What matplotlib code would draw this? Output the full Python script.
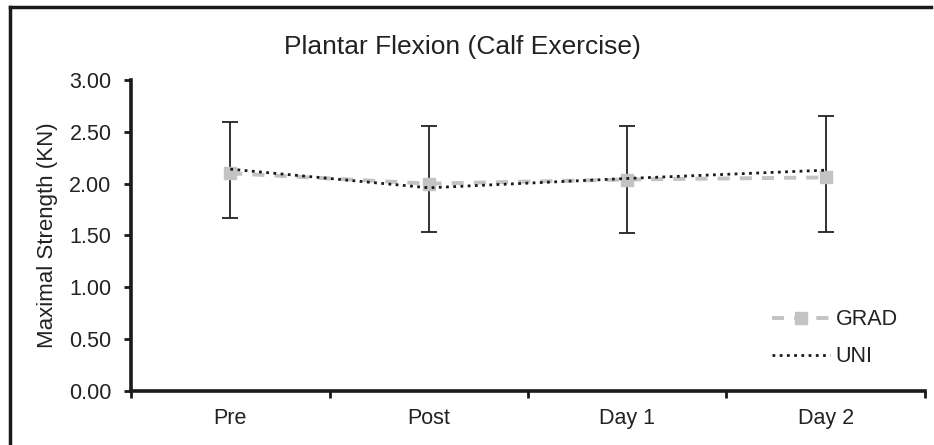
import matplotlib.pyplot as plt
from matplotlib.lines import Line2D

plt.rcParams['font.family'] = ['Liberation Sans', 'DejaVu Sans']

timepoints = ['Pre', 'Post', 'Day 1', 'Day 2']
grad = [2.10, 2.00, 2.04, 2.06]
uni = [2.14, 1.96, 2.05, 2.13]
err_low = [1.67, 1.53, 1.52, 1.53]
err_high = [2.59, 2.56, 2.56, 2.65]

fig = plt.figure(figsize=(9.34, 4.45), dpi=100)
ax = fig.add_axes([0.1403, 0.1213, 0.850, 0.699])

x = list(range(len(timepoints)))
mid = [(lo + hi) / 2 for lo, hi in zip(err_low, err_high)]
half = [(hi - lo) / 2 for lo, hi in zip(err_low, err_high)]
ax.errorbar(x, mid, yerr=half, fmt='none', ecolor='#222222', elinewidth=1.3,
            capsize=5.5, capthick=1.3, zorder=2)

ax.plot(x, grad, color='#c3c3c3', linestyle=(0, (3.1, 2.6)), linewidth=2.8,
        marker='s', markersize=9, label='GRAD', zorder=3)
ax.plot(x, uni, color='#1a1a1a', linestyle=(0, (1, 1.6)), linewidth=2.0,
        label='UNI', zorder=4)

ax.set_xlim(-0.5, 3.5)
ax.set_ylim(0, 3)
yt = [0, 0.5, 1, 1.5, 2, 2.5, 3]
ax.set_yticks(yt)
ax.set_yticklabels(['%.2f' % v for v in yt])
ax.set_xticks(x)
ax.set_xticklabels(timepoints)
ax.set_xticks([-0.5, 0.5, 1.5, 2.5, 3.5], minor=True)
ax.tick_params(axis='x', which='major', length=0, pad=12, labelsize=15.5,
               labelcolor='#222222')
ax.tick_params(axis='x', which='minor', length=5, width=2, color='#1a1a1a')
ax.tick_params(axis='y', length=5, width=2, color='#1a1a1a', labelsize=15.5,
               pad=9, labelcolor='#222222')
for side in ['top', 'right']:
    ax.spines[side].set_visible(False)
for side in ['left', 'bottom']:
    ax.spines[side].set_linewidth(2.6)
    ax.spines[side].set_color('#1a1a1a')

ax.set_ylabel('Maximal Strength (KN)', fontsize=16, labelpad=8, color='#222222')

leg = ax.legend(loc='lower right', bbox_to_anchor=(0.99, 0.014), frameon=False,
                fontsize=15.5, handlelength=2.7, labelspacing=0.75,
                handletextpad=0.25)
for t in leg.get_texts():
    t.set_color('#222222')

fig.text(0.495, 0.895, 'Plantar Flexion (Calf Exercise)', ha='center', va='center',
         fontsize=19, color='#222222')

# outer frame: only left and top edges fall inside the picture
fx = 10 / 934
fy = 1 - 7 / 445
fig.add_artist(Line2D([fx, fx], [0, fy], transform=fig.transFigure,
                      color='#1a1a1a', linewidth=2.5, solid_capstyle='projecting'))
fig.add_artist(Line2D([fx, 0.997], [fy, fy], transform=fig.transFigure,
                      color='#1a1a1a', linewidth=2.5, solid_capstyle='projecting'))

fig.savefig('out.png', dpi=100)
